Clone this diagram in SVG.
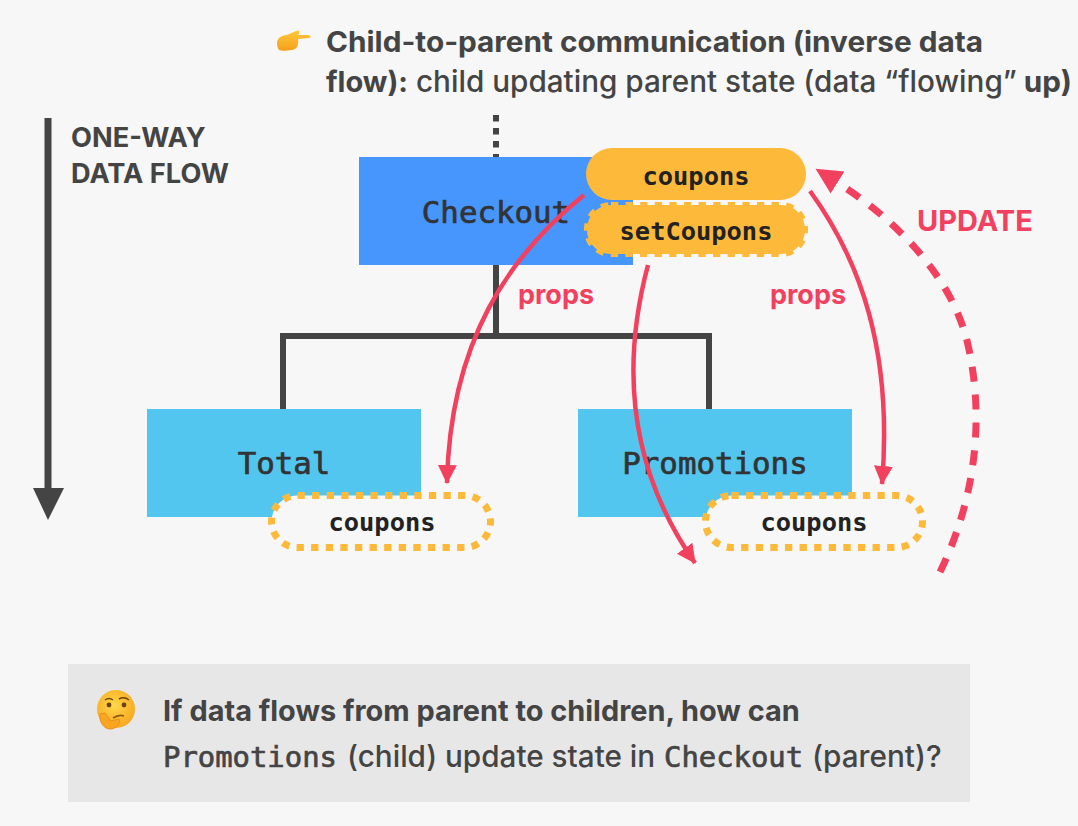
<svg xmlns="http://www.w3.org/2000/svg" width="1078" height="826" viewBox="0 0 1078 826">
<style>
.ui{font-family:Inter,"Noto Sans",sans-serif;fill:#444}
.b{font-weight:700}
.m{font-weight:500}
.mono{font-family:"DejaVu Sans Mono","Liberation Mono",monospace}
.node{font-size:30.8px;fill:#333;stroke:#333;stroke-width:.7;text-anchor:middle}
.st{font-size:25.4px;font-weight:700;fill:#222;text-anchor:middle}
.red{fill:#f2415f;font-family:Inter,"Noto Sans",sans-serif;font-weight:700}
.wire{fill:none;stroke:#444;stroke-width:6}
.arr{fill:none;stroke:#f2415f;stroke-width:4.5}
.oran{fill:#fdb93a}
.prop{fill:#f7f7f7;stroke:#fdb93a;stroke-width:7;stroke-dasharray:7.3 7.3}
.code{font-family:"DejaVu Sans Mono","Liberation Mono",monospace;font-size:28.9px;fill:#444;stroke:#444;stroke-width:.7}
</style>
<defs>
<marker id="ah" markerUnits="userSpaceOnUse" markerWidth="20" markerHeight="24" refX="18" refY="9.5" orient="auto"><path d="M0 0L19 9.5L0 19Z" fill="#f2415f"/></marker>
<marker id="ah2" markerUnits="userSpaceOnUse" markerWidth="28" markerHeight="28" refX="3" refY="13" orient="auto"><path d="M0 0L26 13L0 26Z" fill="#f2415f"/></marker>
<radialGradient id="face" cx=".45" cy=".4" r=".65"><stop offset="0" stop-color="#ffd84a"/><stop offset="1" stop-color="#f7a41d"/></radialGradient>
<linearGradient id="hand" x1="0" y1="0" x2="0" y2="1"><stop offset="0" stop-color="#ffc83a"/><stop offset="1" stop-color="#f5a01c"/></linearGradient>
</defs>
<rect width="1078" height="826" fill="#f7f7f7"/>
<g id="title">
<path d="M277 42C278 37 283 35 287 35L296 31C300 29 300 33 298 35L309 35C311 36 311 38 309 38L298 39C299 45 297 49 292 50C286 51 281 51 279 50C277 47 277 45 277 42Z" fill="url(#hand)"/>
<text class="ui b" x="326" y="52" font-size="28.4" textLength="657" lengthAdjust="spacingAndGlyphs">Child-to-parent communication (inverse data</text>
<text class="ui" x="326" y="92" font-size="29.7"><tspan class="b" font-size="29">flow):</tspan><tspan class="m"> child updating parent state (data “flowing”</tspan><tspan class="b"> up)</tspan></text>
</g>
<g id="flow-label">
<path d="M48 118V490" stroke="#444" stroke-width="7" fill="none"/>
<path d="M33 488H64L48 520Z" fill="#444"/>
<text class="ui b" x="71" y="147" font-size="27.2">ONE-WAY</text>
<text class="ui b" x="71" y="183" font-size="27.2">DATA FLOW</text>
</g>
<g id="connectors">
<path class="wire" d="M496 115V157" stroke-dasharray="6.5 6.5"/>
<path class="wire" d="M496 265V336M283 409V336H709V409"/>
</g>
<g id="checkout"><rect x="359" y="157" width="274" height="108" fill="#4796fd"/><text class="mono node" x="496" y="223">Checkout</text></g>
<g id="total"><rect x="147" y="409" width="274" height="108" fill="#52c6ee"/><text class="mono node" x="284" y="474">Total</text></g>
<g id="promotions"><rect x="578" y="409" width="274" height="108" fill="#52c6ee"/><text class="mono node" x="715" y="474">Promotions</text></g>
<g id="state-coupons"><rect x="586" y="148" width="220" height="52" rx="26" class="oran"/><text class="mono st" x="696" y="185">coupons</text></g>
<g id="state-setcoupons"><rect x="587" y="205" width="218" height="49" rx="24" class="oran" stroke="#fdb93a" stroke-width="6" stroke-dasharray="7.3 7.3"/><rect x="590" y="207" width="212" height="46" rx="23" class="oran"/><text class="mono st" x="696" y="240">setCoupons</text></g>
<g id="prop-total"><rect class="prop" x="271.5" y="495.5" width="219" height="52" rx="26"/><text class="mono st" x="382" y="531">coupons</text></g>
<g id="prop-promotions"><rect class="prop" x="705.5" y="495.5" width="217" height="52" rx="26"/><text class="mono st" x="814" y="531">coupons</text></g>
<g id="arrows">
<path class="arr" marker-end="url(#ah)" d="M584 195C510 255 450 340 447 483"/>
<path class="arr" marker-end="url(#ah)" d="M648 265C620 370 630 470 695 563"/>
<path class="arr" marker-end="url(#ah)" d="M810 191C860 260 893 350 882 484"/>
<path class="arr" style="stroke-width:7;stroke-dasharray:15 13" marker-end="url(#ah2)" d="M940 572C975 500 985 420 968 345C955 285 905 225 835 181"/>
</g>
<g id="labels">
<text class="red" x="518" y="304" font-size="27">props</text>
<text class="red" x="770" y="304" font-size="27">props</text>
<text class="red" x="917" y="231" font-size="29">UPDATE</text>
</g>
<g id="question">
<rect x="68" y="664" width="902" height="138" fill="#e7e7e7"/>
<circle cx="116" cy="709" r="19" fill="url(#face)"/>
<path d="M105 700Q109 697 113 700M119 699Q124 696 129 700" stroke="#6b4310" stroke-width="1.5" fill="none"/>
<circle cx="109" cy="705" r="2.4" fill="#6b4310"/><circle cx="124" cy="705" r="2.4" fill="#6b4310"/>
<path d="M113 718Q119 714 124 716" stroke="#8a5a16" stroke-width="1.6" fill="none"/>
<path d="M100 714C99 722 104 729 110 729C116 729 118 725 120 722L119 719L111 721L105 713Z" fill="#f9a51f" stroke="#e8901a" stroke-width="1"/>
<text class="ui b" x="163" y="721" font-size="28.9">If data flows from parent to children, how can</text>
<text class="ui m" x="347" y="767" font-size="29.7">(child) update state in</text>
<text class="code" x="163" y="767">Promotions</text>
<text class="code" x="664" y="767">Checkout</text>
<text class="ui m" x="812" y="767" font-size="29.7">(parent)?</text>
</g>
</svg>
